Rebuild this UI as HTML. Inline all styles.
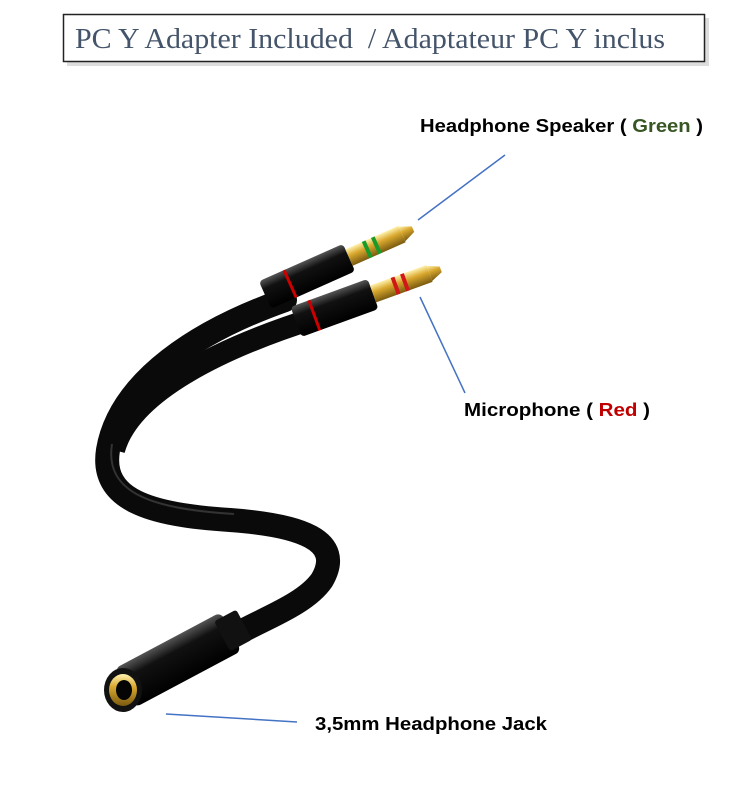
<!DOCTYPE html>
<html><head><meta charset="utf-8"><style>
html,body{margin:0;padding:0;background:#fff;}
svg{display:block}
</style></head><body>
<svg width="751" height="793" viewBox="0 0 751 793" xmlns="http://www.w3.org/2000/svg">
<defs>
<linearGradient id="gold" x1="0" y1="0" x2="0" y2="1">
<stop offset="0" stop-color="#fff3b0"/><stop offset="0.4" stop-color="#d9a82e"/><stop offset="1" stop-color="#7a5a10"/>
</linearGradient>
<linearGradient id="blk" x1="0" y1="0" x2="0" y2="1">
<stop offset="0" stop-color="#555"/><stop offset="0.3" stop-color="#111"/><stop offset="1" stop-color="#000"/>
</linearGradient>
</defs>
<rect x="67" y="18" width="642" height="48" fill="#ddd"/>
<rect x="63.5" y="14.5" width="641" height="47" fill="#fff" stroke="#222" stroke-width="1.5"/>
<text x="75" y="48" font-family="Liberation Serif, serif" font-size="28" fill="#44546a" textLength="590" lengthAdjust="spacingAndGlyphs">PC Y Adapter Included&#160; / Adaptateur PC Y inclus</text>

<!-- cable -->
<path d="M285 300 C200 330 120 380 108 450 C100 500 150 515 230 520 C300 525 345 540 322 580 C305 605 260 620 235 635" fill="none" stroke="#0a0a0a" stroke-width="24" stroke-linecap="round"/>
<path d="M315 318 C220 348 130 392 114 450" fill="none" stroke="#0a0a0a" stroke-width="22"/>
<path d="M108 450 C100 500 150 515 230 520" fill="none" stroke="#333" stroke-width="2" transform="translate(4,-6)"/>

<!-- upper plug -->
<g transform="translate(265,295) rotate(-24)">
<rect x="0" y="-15" width="92" height="30" rx="4" fill="url(#blk)"/>
<rect x="26" y="-15" width="3" height="30" fill="#c00"/>
<rect x="92" y="-9" width="58" height="18" fill="url(#gold)"/>
<rect x="110" y="-9" width="4" height="18" fill="#1a9a2a"/>
<rect x="120" y="-9" width="4" height="18" fill="#1a9a2a"/>
<path d="M150 -8 L162 -3 L162 3 L150 8 Z" fill="url(#gold)"/>
</g>
<!-- lower plug -->
<g transform="translate(296,322) rotate(-20)">
<rect x="0" y="-16" width="82" height="32" rx="4" fill="url(#blk)"/>
<rect x="18" y="-16" width="3" height="32" fill="#c00"/>
<rect x="82" y="-9" width="60" height="18" fill="url(#gold)"/>
<rect x="104" y="-9" width="4" height="18" fill="#d01818"/>
<rect x="114" y="-9" width="4" height="18" fill="#d01818"/>
<path d="M142 -8 L154 -3 L154 3 L142 8 Z" fill="url(#gold)"/>
</g>

<!-- jack -->
<g transform="translate(125,688) rotate(-28)">
<rect x="0" y="-22" width="120" height="44" rx="6" fill="url(#blk)"/>
<rect x="110" y="-17" width="25" height="34" rx="3" fill="#111"/>
</g>
<ellipse cx="123" cy="690" rx="19" ry="22" fill="#111"/>
<ellipse cx="123" cy="690" rx="14" ry="16" fill="url(#gold)"/>
<ellipse cx="124" cy="690" rx="8" ry="10" fill="#050505"/>

<!-- connectors -->
<g stroke="#4472c4" stroke-width="1.5">
<line x1="505" y1="155" x2="418" y2="220"/>
<line x1="420" y1="297" x2="465" y2="393"/>
<line x1="166" y1="714" x2="297" y2="722"/>
</g>

<g font-family="Liberation Sans, sans-serif" font-weight="bold" font-size="18" fill="#000">
<text x="420" y="132" textLength="283" lengthAdjust="spacingAndGlyphs">Headphone Speaker ( <tspan fill="#375623">Green</tspan> )</text>
<text x="464" y="416" textLength="186" lengthAdjust="spacingAndGlyphs">Microphone ( <tspan fill="#c00000">Red</tspan> )</text>
<text x="315" y="730" textLength="232" lengthAdjust="spacingAndGlyphs">3,5mm Headphone Jack</text>
</g>
</svg>
</body></html>
